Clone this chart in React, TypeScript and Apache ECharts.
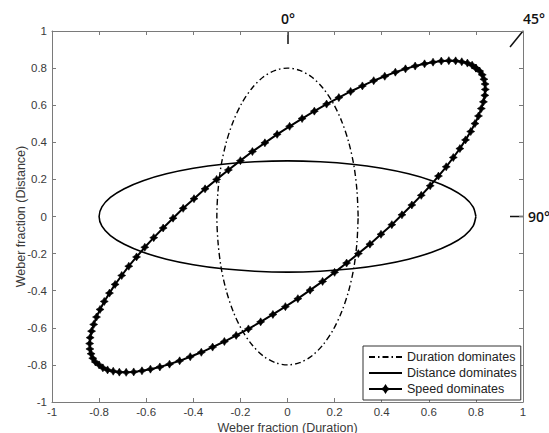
import React, { useEffect, useRef } from "react";
import * as echarts from "echarts";

const seriesNames = ["Duration dominates", "Distance dominates", "Speed dominates"];

const durationPts: number[][] = [
  [0.300, 0], [0.295, 0.139], [0.282, 0.274], [0.260, 0.400], [0.230, 0.514], [0.193, 0.613],
  [0.150, 0.693], [0.103, 0.752], [0.052, 0.788], [0, 0.800], [-0.052, 0.788], [-0.103, 0.752],
  [-0.150, 0.693], [-0.193, 0.613], [-0.230, 0.514], [-0.260, 0.400], [-0.282, 0.274], [-0.295, 0.139],
  [-0.300, 0], [-0.295, -0.139], [-0.282, -0.274], [-0.260, -0.400], [-0.230, -0.514], [-0.193, -0.613],
  [-0.150, -0.693], [-0.103, -0.752], [-0.052, -0.788], [0, -0.800], [0.052, -0.788], [0.103, -0.752],
  [0.150, -0.693], [0.193, -0.613], [0.230, -0.514], [0.260, -0.400], [0.282, -0.274], [0.295, -0.139],
  [0.300, 0],
];

const distancePts: number[][] = [
  [0.800, 0], [0.788, 0.052], [0.752, 0.103], [0.693, 0.150], [0.613, 0.193], [0.514, 0.230],
  [0.400, 0.260], [0.274, 0.282], [0.139, 0.295], [0, 0.300], [-0.139, 0.295], [-0.274, 0.282],
  [-0.400, 0.260], [-0.514, 0.230], [-0.613, 0.193], [-0.693, 0.150], [-0.752, 0.103], [-0.788, 0.052],
  [-0.800, 0], [-0.788, -0.052], [-0.752, -0.103], [-0.693, -0.150], [-0.613, -0.193], [-0.514, -0.230],
  [-0.400, -0.260], [-0.274, -0.282], [-0.139, -0.295], [0, -0.300], [0.139, -0.295], [0.274, -0.282],
  [0.400, -0.260], [0.514, -0.230], [0.613, -0.193], [0.693, -0.150], [0.752, -0.103], [0.788, -0.052],
  [0.800, 0],
];

const speedPts: number[][] = [
  [0.800, 0.800], [0.784, 0.816], [0.764, 0.827], [0.740, 0.834], [0.714, 0.839], [0.685, 0.840],
  [0.653, 0.838], [0.618, 0.832], [0.582, 0.823], [0.542, 0.811], [0.501, 0.796], [0.458, 0.778],
  [0.413, 0.756], [0.366, 0.732], [0.318, 0.704], [0.268, 0.674], [0.218, 0.641], [0.166, 0.606],
  [0.114, 0.568], [0.062, 0.528], [0.009, 0.486], [-0.044, 0.443], [-0.096, 0.397], [-0.149, 0.350],
  [-0.200, 0.301], [-0.251, 0.251], [-0.301, 0.200], [-0.350, 0.149], [-0.397, 0.096], [-0.443, 0.044],
  [-0.486, -0.009], [-0.528, -0.062], [-0.568, -0.114], [-0.606, -0.166], [-0.641, -0.218], [-0.674, -0.268],
  [-0.704, -0.318], [-0.732, -0.366], [-0.756, -0.413], [-0.778, -0.458], [-0.796, -0.501], [-0.811, -0.542],
  [-0.823, -0.582], [-0.832, -0.618], [-0.838, -0.653], [-0.840, -0.685], [-0.839, -0.714], [-0.834, -0.740],
  [-0.827, -0.764], [-0.816, -0.784], [-0.800, -0.800], [-0.784, -0.816], [-0.764, -0.827], [-0.740, -0.834],
  [-0.714, -0.839], [-0.685, -0.840], [-0.653, -0.838], [-0.618, -0.832], [-0.582, -0.823], [-0.542, -0.811],
  [-0.501, -0.796], [-0.458, -0.778], [-0.413, -0.756], [-0.366, -0.732], [-0.318, -0.704], [-0.268, -0.674],
  [-0.218, -0.641], [-0.166, -0.606], [-0.114, -0.568], [-0.062, -0.528], [-0.009, -0.486], [0.044, -0.443],
  [0.096, -0.397], [0.149, -0.350], [0.200, -0.301], [0.251, -0.251], [0.301, -0.200], [0.350, -0.149],
  [0.397, -0.096], [0.443, -0.044], [0.486, 0.009], [0.528, 0.062], [0.568, 0.114], [0.606, 0.166],
  [0.641, 0.218], [0.674, 0.268], [0.704, 0.318], [0.732, 0.366], [0.756, 0.413], [0.778, 0.458],
  [0.796, 0.501], [0.811, 0.542], [0.823, 0.582], [0.832, 0.618], [0.838, 0.653], [0.840, 0.685],
  [0.839, 0.714], [0.834, 0.740], [0.827, 0.764], [0.816, 0.784], [0.800, 0.800],
];

const axisMin = -1;
const axisMax = 1;
const axisStep = 0.2;
const xAxisTitle = "Weber fraction (Duration)";
const yAxisTitle = "Weber fraction (Distance)";
const angleLabels = ["0°", "45°", "90°"];

const FONT = "Arial, 'Liberation Sans', sans-serif";
const AXIS_COLOR = "#7a7a7a";
const LABEL_COLOR = "#3a3a3a";
const STAR = "path://M5,0 L6.9,3.1 L10,5 L6.9,6.9 L5,10 L3.1,6.9 L0,5 L3.1,3.1 Z";

export default function App() {
  const ref = useRef<HTMLDivElement>(null);
  useEffect(() => {
    if (!ref.current) return;
    const chart = echarts.init(ref.current, undefined, { renderer: "svg" });
    const baseAxis = {
      type: "value" as const,
      min: axisMin,
      max: axisMax,
      interval: axisStep,
      splitLine: { show: false },
      axisLine: { show: true, onZero: false, lineStyle: { color: AXIS_COLOR, width: 1 } },
      axisTick: { show: true, inside: true, length: 4, lineStyle: { color: AXIS_COLOR } },
    };
    chart.setOption({
      animation: false,
      backgroundColor: "#ffffff",
      textStyle: { fontFamily: FONT },
      grid: { left: 52, right: 26, top: 31, bottom: 31, containLabel: false, outerBoundsMode: "none" },
      xAxis: [
        {
          ...baseAxis,
          position: "bottom",
          name: xAxisTitle,
          nameLocation: "middle",
          nameGap: 19,
          nameMoveOverlap: false,
          nameTextStyle: { fontSize: 12.5, color: LABEL_COLOR, fontFamily: FONT },
          axisLabel: { fontSize: 11.5, color: LABEL_COLOR, margin: 4, fontFamily: FONT },
        },
        { ...baseAxis, position: "top", axisLabel: { show: false } },
      ],
      yAxis: [
        {
          ...baseAxis,
          position: "left",
          name: yAxisTitle,
          nameLocation: "middle",
          nameGap: 25,
          nameMoveOverlap: false,
          nameTextStyle: { fontSize: 12.5, color: LABEL_COLOR, fontFamily: FONT },
          axisLabel: { fontSize: 11.5, color: LABEL_COLOR, margin: 5, fontFamily: FONT },
        },
        { ...baseAxis, position: "right", axisLabel: { show: false } },
      ],
      legend: {
        orient: "vertical",
        left: 363,
        top: 346,
        padding: [4, 4, 4, 5],
        itemWidth: 33,
        itemHeight: 8,
        itemGap: 2,
        borderColor: "#333",
        borderWidth: 1,
        borderRadius: 0,
        backgroundColor: "#ffffff",
        textStyle: { fontSize: 12.5, color: "#222", fontFamily: FONT, lineHeight: 14 },
        data: [
          { name: seriesNames[0], itemStyle: { opacity: 0 } },
          { name: seriesNames[1], itemStyle: { opacity: 0 } },
          { name: seriesNames[2] },
        ],
      },
      series: [
        {
          name: seriesNames[0],
          type: "line",
          data: durationPts,
          smooth: 0.3,
          symbol: "none",
          color: "#000",
          lineStyle: { color: "#000", width: 1.4, type: [6, 3, 1.5, 3] },
        },
        {
          name: seriesNames[1],
          type: "line",
          data: distancePts,
          smooth: 0.3,
          symbol: "none",
          color: "#000",
          lineStyle: { color: "#000", width: 1.6 },
        },
        {
          name: seriesNames[2],
          type: "line",
          data: speedPts,
          symbol: STAR,
          symbolSize: 8,
          showSymbol: true,
          showAllSymbol: true,
          color: "#000",
          itemStyle: { color: "#000", borderColor: "#000", borderWidth: 0.6 },
          lineStyle: { color: "#000", width: 2 },
        },
      ],
      graphic: [
        { type: "text", x: 288, y: 18, style: { text: angleLabels[0], font: `600 14px 'Open Sans', sans-serif`, fill: "#111", align: "center", verticalAlign: "middle" } },
        { type: "text", x: 534, y: 18, style: { text: angleLabels[1], font: `600 14px 'Open Sans', sans-serif`, fill: "#111", align: "center", verticalAlign: "middle" } },
        { type: "text", x: 528, y: 216, style: { text: angleLabels[2], font: `600 14px 'Open Sans', sans-serif`, fill: "#111", align: "left", verticalAlign: "middle" } },
        { type: "line", shape: { x1: 288, y1: 31, x2: 288, y2: 44 }, style: { stroke: "#111", lineWidth: 1.5 } },
        { type: "line", shape: { x1: 523, y1: 31, x2: 510, y2: 47 }, style: { stroke: "#111", lineWidth: 1.5 } },
        { type: "line", shape: { x1: 510, y1: 216.5, x2: 523, y2: 216.5 }, style: { stroke: "#111", lineWidth: 1.5 } },
      ],
    });
    return () => chart.dispose();
  }, []);
  return (
    <div
      ref={ref}
      style={{ position: "fixed", left: 0, top: 0, width: 549, height: 433, background: "#fff" }}
    />
  );
}
